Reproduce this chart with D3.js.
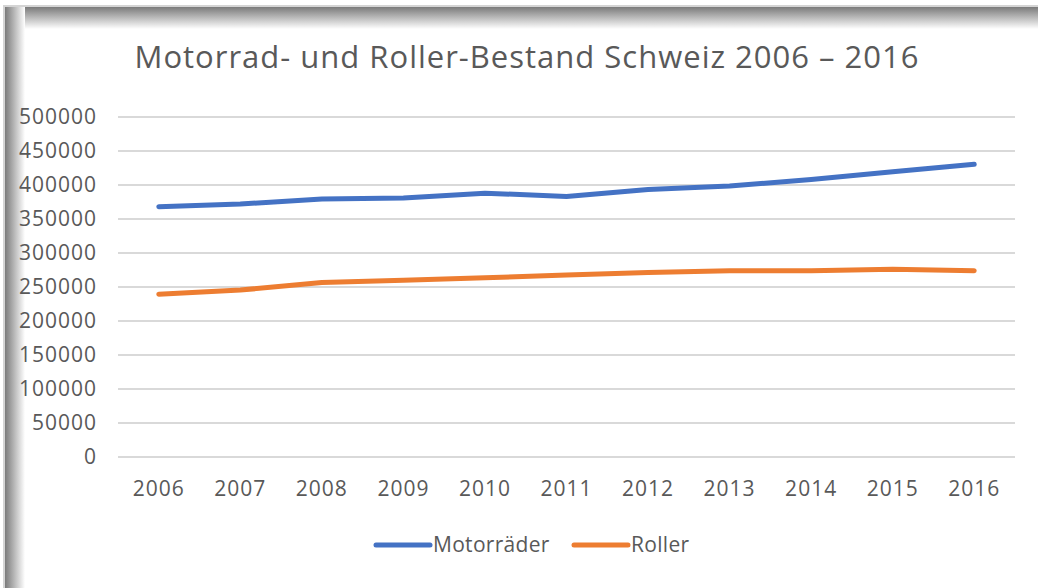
<!DOCTYPE html>
<html>
<head>
<meta charset="utf-8">
<script src="https://cdn.jsdelivr.net/npm/d3@7"></script>
<style>
  body { margin: 0; background: #fff; }
  text { font-family: "Open Sans", sans-serif; fill: #595959; }
</style>
</head>
<body>
<svg id="chart" width="1038" height="588"></svg>
<script>
// data
const years = ["2006","2007","2008","2009","2010","2011","2012","2013","2014","2015","2016"];
const motorraeder = [368000, 372000, 379500, 381000, 388000, 383000, 393500, 398500, 408000, 419500, 430500];
const roller = [239500, 245500, 256500, 260000, 263500, 267500, 271500, 274000, 274000, 276000, 274000];
const yTicks = [0, 50000, 100000, 150000, 200000, 250000, 300000, 350000, 400000, 450000, 500000];
const seriesNames = ["Motorräder", "Roller"];
const seriesColors = ["#4472C4", "#ED7D31"];

const svg = d3.select("#chart");
const margin = {top: 117, right: 23, bottom: 131, left: 118};
const width = 1038 - margin.left - margin.right;
const height = 588 - margin.top - margin.bottom;

// frame shadow
const defs = svg.append("defs");
const gTop = defs.append("linearGradient").attr("id", "shTop").attr("x1", 0).attr("y1", 0).attr("x2", 0).attr("y2", 1);
gTop.append("stop").attr("offset", "0%").attr("stop-color", "#7a7a7a");
gTop.append("stop").attr("offset", "100%").attr("stop-color", "#ffffff");
const gLeft = defs.append("linearGradient").attr("id", "shLeft").attr("x1", 0).attr("y1", 0).attr("x2", 1).attr("y2", 0);
gLeft.append("stop").attr("offset", "0%").attr("stop-color", "#7a7a7a");
gLeft.append("stop").attr("offset", "100%").attr("stop-color", "#ffffff");

svg.append("rect").attr("x", 3).attr("y", 5).attr("width", 1035).attr("height", 583).attr("fill", "#d4d4d4");
svg.append("rect").attr("x", 5).attr("y", 7).attr("width", 1033).attr("height", 581).attr("fill", "#fff");
svg.append("rect").attr("x", 5).attr("y", 7).attr("width", 1033).attr("height", 22).attr("fill", "url(#shTop)");
svg.append("rect").attr("x", 5).attr("y", 7).attr("width", 20).attr("height", 581).attr("fill", "url(#shLeft)");

// title
svg.append("text")
  .attr("x", 527)
  .attr("y", 68)
  .attr("text-anchor", "middle")
  .style("font-size", "31px")
  .style("letter-spacing", "1px")
  .text("Motorrad- und Roller-Bestand Schweiz 2006 – 2016");

const g = svg.append("g")
  .attr("transform", "translate(" + margin.left + "," + margin.top + ")");

const x = d3.scaleBand()
  .domain(years)
  .range([0, width]);

const y = d3.scaleLinear()
  .domain([0, 500000])
  .range([height, 0]);

// gridlines
g.append("g")
  .selectAll("line")
  .data(yTicks)
  .enter()
  .append("line")
    .attr("x1", 0)
    .attr("x2", width)
    .attr("y1", d => y(d))
    .attr("y2", d => y(d))
    .attr("stroke", "#d9d9d9")
    .attr("stroke-width", 2);

// y axis labels
const yAxis = g.append("g")
  .call(d3.axisLeft(y).tickValues(yTicks).tickSize(0).tickPadding(21).tickFormat(d => d));
yAxis.select(".domain").remove();
yAxis.selectAll("text").style("font-size", "21px").style("letter-spacing", "1px").attr("fill", "#595959");

// x axis labels
const xAxis = g.append("g")
  .attr("transform", "translate(0," + height + ")")
  .call(d3.axisBottom(x).tickSize(0).tickPadding(24));
xAxis.select(".domain").remove();
xAxis.selectAll("text").style("font-size", "21px").style("letter-spacing", "1px").attr("fill", "#595959");

// lines
const line = d3.line()
  .x((d, i) => x(years[i]) + x.bandwidth() / 2)
  .y(d => y(d));

[motorraeder, roller].forEach((s, i) => {
  g.append("path")
    .datum(s)
    .attr("fill", "none")
    .attr("stroke", seriesColors[i])
    .attr("stroke-width", 5)
    .attr("stroke-linecap", "round")
    .attr("stroke-linejoin", "round")
    .attr("d", line);
});

// legend
const legend = svg.append("g").attr("transform", "translate(376,545)");
const legendX = [0, 198];
seriesNames.forEach((name, i) => {
  const item = legend.append("g").attr("transform", "translate(" + legendX[i] + ",0)");
  item.append("line")
    .attr("x1", 0).attr("x2", 54)
    .attr("y1", 0).attr("y2", 0)
    .attr("stroke", seriesColors[i])
    .attr("stroke-width", 5)
    .attr("stroke-linecap", "round");
  item.append("text")
    .attr("x", 57)
    .attr("y", 0)
    .attr("dy", "0.35em")
    .style("font-size", "21px")
    .style("letter-spacing", "0.3px")
    .text(name);
});
</script>
</body>
</html>
